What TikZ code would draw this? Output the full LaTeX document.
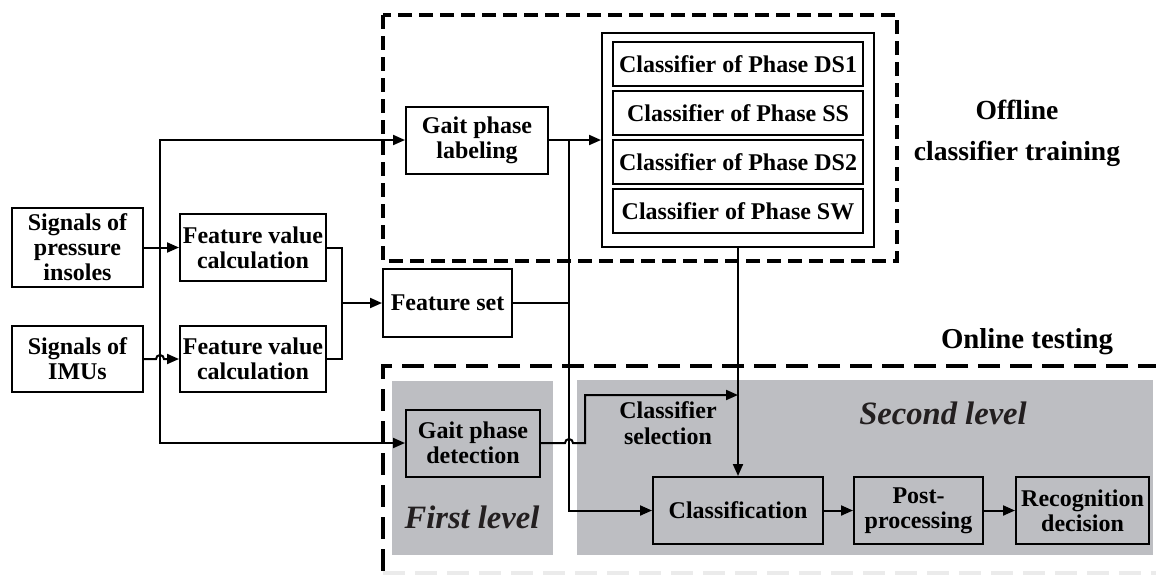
\documentclass[tikz,border=0pt]{standalone}
\usepackage{fontspec}
\setmainfont{Liberation Serif}
\usetikzlibrary{arrows.meta,positioning}
\definecolor{levelgray}{RGB}{189,190,194}
\definecolor{levelink}{RGB}{35,31,32}
\tikzset{
  box/.style={draw, line width=1pt, align=center, inner sep=0pt,
    font=\fontsize{12}{12.5}\selectfont\bfseries},
  wh/.style n args={2}{minimum width=#1*0.5pt, minimum height=#2*0.5pt},
  flow/.style={line width=1pt},
  arr/.style={flow, -{Triangle[length=6pt,width=5pt]}},
  offbox/.style={line width=1.8pt, dash pattern=on 7pt off 3.5pt},
  onbox/.style={line width=1.8pt, dash pattern=on 11pt off 5pt},
  level/.style={font=\fontsize{16.3}{18}\selectfont\bfseries\itshape, text=levelink}
}

\begin{document}
\begin{tikzpicture}[x=0.5pt,y=-0.5pt]
  \useasboundingbox (0,0) rectangle (1156,574);

  % shaded levels of the online part
  \fill[levelgray] (392,381) rectangle (553,555);
  \fill[levelgray] (577,380) rectangle (1153,555);

  % dashed frames
  \draw[offbox] (383,15) rectangle (897,261);
  \draw[onbox] (1160,366) -- (383,366) -- (383,578);
  \draw[onbox, black!8] (383,573) -- (1160,573);

  \node (sig1) [box, wh={131}{79}] at (77.5,247.5) {Signals of\\pressure\\insoles};
  \node (sig2) [box, wh={131}{66}] at (77.5,359) {Signals of\\IMUs};
  \node (fv1) [box, wh={146}{67}] at (253,247.5) {Feature value\\calculation};
  \node (fv2) [box, wh={146}{66}] at (253,359) {Feature value\\calculation};
  \node (fset) [box, wh={129}{68}] at (447.5,303) {Feature set};
  \node (label) [box, wh={142}{67}] at (477,140) {Gait phase\\labeling};
  \node (bank) [box, wh={272}{214}] at (738,140) {};
  \foreach \ph [count=\i] in {DS1,SS,DS2,SW}
    \node (cls\i) [box, wh={250}{44}] at (738,15+49*\i) {Classifier of Phase \ph};
  \node (detect) [box, wh={134}{67}] at (473,443) {Gait phase\\detection};
  \node (classif) [box, wh={170}{67}] at (738,510.5) {Classification};
  \node (post) [box, wh={129}{67}] at (918.5,510.5) {Post-\\processing};
  \node (recog) [box, wh={133}{67}] at (1082.5,510.5) {Recognition\\decision};

  \node (offline) [align=center, font=\fontsize{13.8}{20.5}\selectfont\bfseries] at (1017,133) {Offline\\classifier training};
  \node (online) [font=\fontsize{14.4}{16}\selectfont\bfseries] at (1027,342) {Online testing};
  \node (selection) [align=center, font=\fontsize{12}{13}\selectfont\bfseries] at (668,423) {Classifier\\selection};
  \node (first) [level] at (472,517) {First level};
  \node (second) [level] at (943,413) {Second level};

  \coordinate (split) at (160,247.5);
  \coordinate (merge) at (342,303);
  \coordinate (tap) at (569,140);
  \coordinate (pick) at (738,395);

  \draw[arr] (sig1) -- (fv1);
  \draw[arr] (split) |- (label);
  \draw[arr] (split) |- (detect);
  \draw[arr] (sig2.east) -- (156,359) arc[start angle=180, end angle=360, radius=4] -- (fv2.west);
  \draw[flow] (fv1.east) -| (merge);
  \draw[flow] (fv2.east) -| (merge);
  \draw[arr] (merge) -- (fset);
  \draw[arr] (label) -- (bank);
  \draw[arr] (tap) |- (classif);
  \draw[flow] (fset.east) -- (fset.east -| tap);
  \draw[arr] (bank) -- (classif);
  \draw[arr] (detect.east) -- (565,443) arc[start angle=180, end angle=360, radius=4] -- (585,443) |- (pick);
  \draw[arr] (classif) -- (post);
  \draw[arr] (post) -- (recog);
\end{tikzpicture}
\end{document}
